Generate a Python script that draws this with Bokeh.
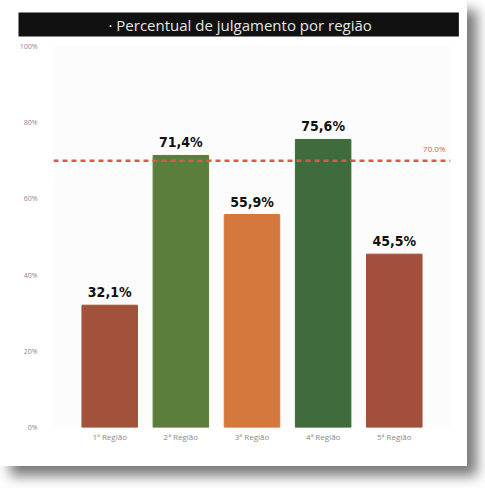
from bokeh.plotting import figure
from bokeh.models import ColumnDataSource, FactorRange, Span, Label, PrintfTickFormatter, FixedTicker, Title
from bokeh.embed import file_html
from bokeh.resources import INLINE
from bokeh.core.properties import value

regions = ["1ª Região", "2ª Região", "3ª Região", "4ª Região", "5ª Região"]
percent = [32.1, 71.4, 55.9, 75.6, 45.5]
colors = ["#a2513b", "#5c7e3c", "#d5783d", "#3f6b3d", "#a24f3b"]
target = 70.0
y_ticks = [0, 20, 40, 60, 80, 100]
title_text = "· Percentual de julgamento por região"

labels = [f"{v:.1f}%".replace(".", ",") for v in percent]
src = ColumnDataSource(dict(x=regions, y=percent, c=colors, lab=labels))

p = figure(width=467, height=466, output_backend="svg", toolbar_location=None,
           x_range=FactorRange(factors=regions, range_padding=0.116),
           y_range=(0, 100), title=None,
           min_border_left=53, min_border_right=17, min_border_bottom=39, min_border_top=4)

t = Title(text=title_text, align="left", offset=-35, background_fill_color="#111111",
          text_color="#e6e6e6", text_font="Open Sans", text_font_size="15px",
          text_font_style="normal", padding=(90, 87, 2, 2), standoff=20)
p.add_layout(t, "above")

p.vbar(x="x", top="y", width=0.78, color="c", source=src)
p.text(x="x", y="y", text="lab", source=src, text_align="center", text_baseline="bottom",
       y_offset=-5, text_font=value("DejaVu Sans Condensed"), text_font_style="bold",
       text_font_size="14px", text_color="#111111")

span = Span(location=target, dimension="width", line_color="#e0564b", line_width=2.5,
            line_dash="5 4")
p.add_layout(span)
p.add_layout(Label(x=5.29, y=target, text=f"{target:.1f}%", text_align="right",
                   y_offset=7, x_offset=-5, text_font="Open Sans",
                   text_font_size="8px", text_color="#e0564b"))

p.yaxis.ticker = FixedTicker(ticks=y_ticks)
p.yaxis.formatter = PrintfTickFormatter(format="%d%%")
p.yaxis.axis_line_color = None
p.yaxis.major_tick_line_color = None
p.yaxis.minor_tick_line_color = None
p.yaxis.major_tick_out = 0
p.yaxis.minor_tick_out = 0
p.yaxis.major_label_text_font_size = "7px"
p.yaxis.major_label_text_color = "#8a8a8a"
p.yaxis.major_label_standoff = 16
p.yaxis.major_label_text_font = "Open Sans"

p.xaxis.axis_line_color = None
p.xaxis.major_tick_line_color = None
p.xaxis.minor_tick_line_color = None
p.xaxis.major_tick_out = 0
p.xaxis.minor_tick_out = 0
p.xaxis.major_label_text_font_size = "8px"
p.xaxis.major_label_text_color = "#8a8a8a"
p.xaxis.major_label_standoff = 3
p.xaxis.major_label_text_font = "Open Sans"

p.xgrid.grid_line_color = None
p.ygrid.grid_line_color = None
p.outline_line_color = None
p.background_fill_color = "#fcfcfc"
p.border_fill_color = "white"
p.styles = {"box-shadow": "10px 10px 12px #7a7a7a"}

open("out.html", "w").write(file_html(p, INLINE))
